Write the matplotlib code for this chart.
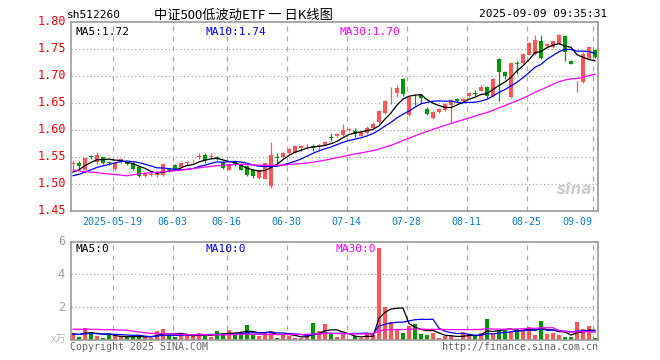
import numpy as np
import pandas as pd
import matplotlib
matplotlib.use("Agg")
import matplotlib.pyplot as plt

# ---- datos (precio en CNY, volumen en 10k) ----
dias = pd.bdate_range("2025-05-08", "2025-09-09")
dias = dias[dias != pd.Timestamp("2025-06-02")]

aperturas = [1.536, 1.539, 1.526, 1.551, 1.540, 1.549, 1.5395, 1.527, 1.540, 1.540,
             1.539, 1.531, 1.514, 1.516, 1.517, 1.517, 1.527, 1.534, 1.531, 1.539,
             1.543, 1.550, 1.554, 1.550, 1.549, 1.540, 1.526, 1.540, 1.536, 1.533,
             1.526, 1.510, 1.509, 1.495, 1.549, 1.549, 1.556, 1.5575, 1.567, 1.569,
             1.570, 1.570, 1.570, 1.587, 1.5875, 1.590, 1.600, 1.598, 1.589, 1.594,
             1.604, 1.614, 1.631, 1.651, 1.668, 1.694, 1.627, 1.665, 1.664, 1.639,
             1.622, 1.633, 1.637, 1.645, 1.656, 1.653, 1.662, 1.668, 1.672, 1.679,
             1.6625, 1.731, 1.7075, 1.661, 1.723, 1.723, 1.739, 1.741, 1.764, 1.755,
             1.753, 1.759, 1.773, 1.727, 1.688, 1.6875, 1.731, 1.748]
maximos = [1.544, 1.542, 1.549, 1.554, 1.559, 1.550, 1.541, 1.541, 1.547, 1.542,
           1.541, 1.533, 1.522, 1.523, 1.523, 1.538, 1.529, 1.536, 1.540, 1.542,
           1.546, 1.556, 1.5575, 1.557, 1.551, 1.542, 1.539, 1.542, 1.538, 1.535,
           1.528, 1.528, 1.541, 1.5775, 1.5575, 1.559, 1.567, 1.571, 1.571, 1.573,
           1.574, 1.573, 1.579, 1.594, 1.594, 1.611, 1.604, 1.604, 1.596, 1.606,
           1.614, 1.636, 1.655, 1.679, 1.682, 1.696, 1.663, 1.667, 1.667, 1.642,
           1.635, 1.641, 1.650, 1.657, 1.659, 1.659, 1.670, 1.674, 1.682, 1.681,
           1.696, 1.733, 1.709, 1.725, 1.728, 1.742, 1.7625, 1.775, 1.775, 1.760,
           1.765, 1.777, 1.775, 1.730, 1.691, 1.743, 1.755, 1.750]
minimos = [1.528, 1.527, 1.525, 1.545, 1.536, 1.536, 1.534, 1.526, 1.539, 1.534,
           1.526, 1.512, 1.512, 1.514, 1.513, 1.515, 1.522, 1.526, 1.529, 1.535,
           1.539, 1.545, 1.539, 1.546, 1.543, 1.528, 1.525, 1.532, 1.525, 1.515,
           1.511, 1.509, 1.508, 1.492, 1.5375, 1.548, 1.555, 1.556, 1.561, 1.564,
           1.561, 1.560, 1.569, 1.579, 1.586, 1.589, 1.598, 1.586, 1.588, 1.592,
           1.603, 1.612, 1.630, 1.648, 1.660, 1.663, 1.625, 1.645, 1.649, 1.628,
           1.620, 1.631, 1.635, 1.613, 1.651, 1.651, 1.660, 1.662, 1.671, 1.659,
           1.661, 1.653, 1.694, 1.659, 1.703, 1.721, 1.738, 1.739, 1.731, 1.752,
           1.752, 1.758, 1.728, 1.721, 1.669, 1.686, 1.729, 1.732]
cierres = [1.538, 1.533, 1.548, 1.550, 1.5525, 1.539, 1.538, 1.539, 1.546, 1.536,
           1.527, 1.514, 1.519, 1.518, 1.518, 1.536, 1.526, 1.5275, 1.539, 1.540,
           1.544, 1.551, 1.544, 1.551, 1.545, 1.529, 1.537, 1.534, 1.526, 1.517,
           1.514, 1.526, 1.539, 1.5525, 1.548, 1.5575, 1.565, 1.569, 1.569, 1.570,
           1.567, 1.571, 1.5775, 1.585, 1.592, 1.600, 1.601, 1.592, 1.595, 1.604,
           1.611, 1.634, 1.654, 1.652, 1.677, 1.666, 1.661, 1.6635, 1.658, 1.630,
           1.633, 1.639, 1.648, 1.655, 1.654, 1.657, 1.668, 1.667, 1.680, 1.6625,
           1.694, 1.706, 1.700, 1.723, 1.722, 1.741, 1.761, 1.767, 1.733, 1.758,
           1.764, 1.775, 1.744, 1.722, 1.689, 1.741, 1.753, 1.734]
volumen = [0.40, 0.20, 0.74, 0.46, 0.24, 0.14, 0.30, 0.24, 0.16, 0.16,
           0.16, 0.30, 0.20, 0.14, 0.56, 0.68, 0.28, 0.20, 0.28, 0.28,
           0.24, 0.44, 0.24, 0.20, 0.56, 0.40, 0.60, 0.36, 0.40, 0.90,
           0.32, 0.24, 0.40, 0.56, 0.14, 0.34, 0.24, 0.14, 0.10, 0.16,
           1.04, 0.56, 0.96, 0.36, 0.16, 0.36, 0.06, 0.24, 0.10, 0.40,
           0.30, 5.60, 2.04, 1.08, 0.64, 0.40, 0.84, 0.96, 0.36, 0.30,
           0.44, 0.10, 0.24, 0.24, 0.06, 0.48, 0.36, 0.24, 0.40, 1.26,
           0.36, 0.56, 0.64, 0.56, 0.64, 0.60, 0.80, 0.30, 1.16, 0.36,
           0.44, 0.30, 0.20, 0.20, 1.10, 0.68, 0.84, 0.14]

# cierres y volumen previos (24-mar a 07-may), solo para las medias moviles
cierres_previos = [1.588, 1.585, 1.580, 1.582, 1.575, 1.570, 1.576, 1.578, 1.572,
                   1.470, 1.465, 1.480, 1.490, 1.495, 1.500, 1.498, 1.502, 1.505,
                   1.500, 1.503, 1.508, 1.505, 1.510, 1.508, 1.510, 1.512, 1.510,
                   1.520, 1.528]
volumen_previo = [0.5, 0.5, 0.5, 0.5, 0.5, 0.5, 0.5, 0.5, 0.5,
                  2.0, 1.8, 1.5, 1.2, 1.0, 0.8, 0.7, 0.7, 0.7, 0.6, 0.7,
                  0.4, 0.35, 0.3, 0.35, 0.4, 0.3, 0.35, 0.35, 0.4]

etiquetas_fecha = ["2025-05-19", "06-03", "06-16", "06-30", "07-14",
                   "07-28", "08-11", "08-25", "09-09"]
fechas_grid = ["2025-05-19", "2025-06-03", "2025-06-16", "2025-06-30", "2025-07-14",
               "2025-07-28", "2025-08-11", "2025-08-25", "2025-09-09"]
niveles_precio = [1.45, 1.50, 1.55, 1.60, 1.65, 1.70, 1.75, 1.80]
niveles_vol = [2, 4, 6]

ROJO = "#ff5555"
VERDE = "#009900"
GRIS = "#999999"
AZUL_FECHA = "#0a80d0"
MONO = "DejaVu Sans Mono"

n = len(cierres)
x = np.arange(n)
o = np.array(aperturas)
c = np.array(cierres)
colores = [ROJO if ci >= oi else VERDE for oi, ci in zip(o, c)]

serie = pd.Series(cierres_previos + cierres)
ma5 = serie.rolling(5, min_periods=1).mean().values[-n:]
ma10 = serie.rolling(10, min_periods=1).mean().values[-n:]
ma30 = serie.rolling(30, min_periods=1).mean().values[-n:]
serie_v = pd.Series(volumen_previo + volumen)
vma5 = serie_v.rolling(5, min_periods=1).mean().values[-n:]
vma10 = serie_v.rolling(10, min_periods=1).mean().values[-n:]
vma30 = serie_v.rolling(30, min_periods=1).mean().values[-n:]

pos_grid = [list(dias).index(pd.Timestamp(f)) - 0.4 for f in fechas_grid]

ANCHO = 527
fig = plt.figure(figsize=(6.6, 3.6), dpi=100)
ax = fig.add_axes([71 / 660, 1 - 210.7 / 360, ANCHO / 660, 189 / 360])
axv = fig.add_axes([71 / 660, 1 - 340 / 360, ANCHO / 660, 98.5 / 360])

for a in (ax, axv):
    a.set_xlim(-0.33, n - 0.5)
    for s in a.spines.values():
        s.set_color(GRIS)
        s.set_linewidth(1.2)
    a.set_xticks([])
    a.set_yticks([])
    for g in pos_grid:
        a.axvline(g, color="#aaaaaa", linestyle=(0, (4, 4)), linewidth=0.9, zorder=0)

# ---- velas ----
ax.set_ylim(1.45, 1.80)
for nivel in niveles_precio[1:-1]:
    ax.axhline(nivel, color="#aaaaaa", linestyle=(0, (1, 2)), linewidth=0.9, zorder=0)
ax.vlines(x, minimos, maximos, colors=colores, linewidth=0.9, zorder=2)
altura = np.maximum(np.abs(c - o), 0.0012)
ax.bar(x, altura, bottom=np.minimum(o, c), width=0.78, color=colores, zorder=3,
       linewidth=0)
ax.plot(x, ma5, color="black", linewidth=0.9, zorder=4)
ax.plot(x, ma10, color="#0000ff", linewidth=0.9, zorder=4)
ax.plot(x, ma30, color="#ff00ff", linewidth=0.9, zorder=4)

for nivel in niveles_precio:
    ax.text(-5 / ANCHO, nivel, f"{nivel:.2f}", transform=ax.get_yaxis_transform(),
            ha="right", va="center", color="#ff0000", fontsize=8.5, family=MONO)

ax.text(4 / ANCHO, 0.97, "MA5:1.72", transform=ax.transAxes, ha="left", va="top",
        color="black", fontsize=8, family=MONO)
ax.text(134 / ANCHO, 0.97, "MA10:1.74", transform=ax.transAxes, ha="left", va="top",
        color="#0000ff", fontsize=8, family=MONO)
ax.text(269 / ANCHO, 0.97, "MA30:1.70", transform=ax.transAxes, ha="left", va="top",
        color="#ff00ff", fontsize=8, family=MONO)
ax.text(0.99, 0.11, "sina", transform=ax.transAxes, ha="right", va="center",
        color="#cccccc", fontsize=11, fontweight="bold", style="italic", zorder=1)

for etiqueta, g in zip(etiquetas_fecha, pos_grid):
    alin = "right" if etiqueta == etiquetas_fecha[-1] else "center"
    ax.text(g, -0.035, etiqueta, transform=ax.get_xaxis_transform(), ha=alin,
            va="top", color=AZUL_FECHA, fontsize=7.2, family=MONO)

# ---- volumen ----
axv.set_ylim(0, 6)
for nivel in niveles_vol[:-1]:
    axv.axhline(nivel, color="#aaaaaa", linestyle=(0, (1, 2)), linewidth=0.9, zorder=0)
axv.bar(x, volumen, width=0.78, color=colores, linewidth=0, zorder=2)
axv.plot(x, vma5, color="black", linewidth=0.9, zorder=3)
axv.plot(x, vma10, color="#0000ff", linewidth=0.9, zorder=3)
axv.plot(x, vma30, color="#ff00ff", linewidth=0.9, zorder=3)
for nivel in niveles_vol:
    axv.text(-6 / ANCHO, nivel, str(nivel), transform=axv.get_yaxis_transform(),
             ha="right", va="center", color=GRIS, fontsize=8.5, family=MONO)
axv.text(4 / ANCHO, 0.97, "MA5:0", transform=axv.transAxes, ha="left", va="top",
         color="black", fontsize=8, family=MONO)
axv.text(134 / ANCHO, 0.97, "MA10:0", transform=axv.transAxes, ha="left", va="top",
         color="#0000ff", fontsize=8, family=MONO)
axv.text(264 / ANCHO, 0.97, "MA30:0", transform=axv.transAxes, ha="left", va="top",
         color="#ff00ff", fontsize=8, family=MONO)

# ---- textos de cabecera y pie ----
fig.text(67 / 660, 1 - 15 / 360, "sh512260", ha="left", va="center",
         fontsize=8, family=MONO)
fig.text(243 / 660, 1 - 15 / 360, "中证500低波动ETF 一 日K线图", ha="center",
         va="center", fontsize=9.5, family=["Noto Sans CJK SC", "DejaVu Sans"])
fig.text(607 / 660, 1 - 14 / 360, "2025-09-09 09:35:31", ha="right",
         va="center", fontsize=8, family=MONO)
fig.text(66 / 660, 1 - 340 / 360, "x万", ha="right", va="center", color="#bbbbbb",
         fontsize=7.5, family=["Noto Sans CJK SC", "DejaVu Sans"])
fig.text(70 / 660, 1 - 347 / 360, "Copyright 2025 SINA.COM", ha="left",
         va="center", color="#666666", fontsize=7.2, family=MONO)
fig.text(598 / 660, 1 - 347 / 360, "http://finance.sina.com.cn", ha="right",
         va="center", color="#666666", fontsize=7.2, family=MONO)

fig.savefig("out.png", dpi=100)
